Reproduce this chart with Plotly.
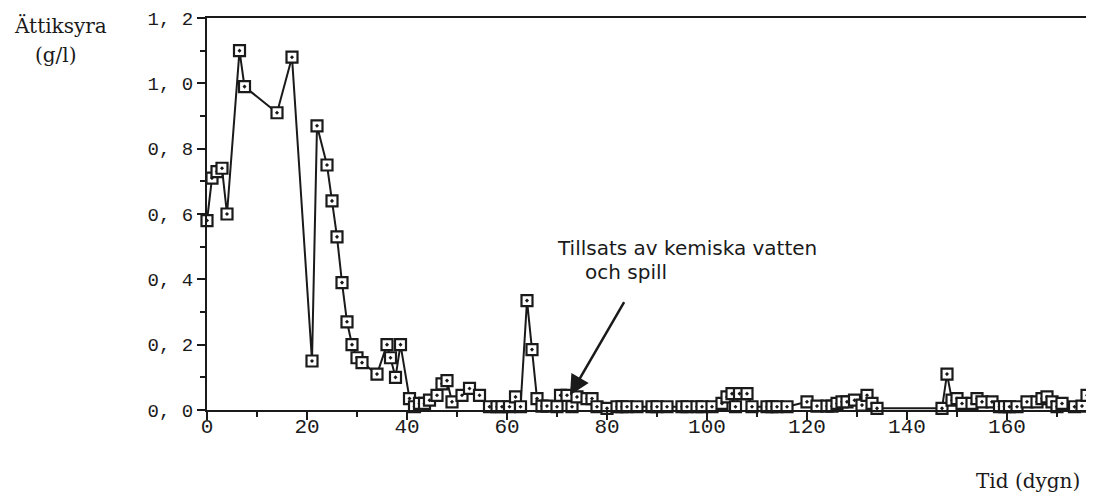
import plotly.graph_objects as go

# Ättiksyra (g/l) over tid (dygn)
dagar = [0, 1, 2, 3, 4, 6.5, 7.5, 14, 17, 21, 22, 24, 25, 26, 27, 28, 29, 30, 31, 34,
         36, 36.7, 37.7, 38.7, 40.5, 41.5, 42.5, 43.5, 44.5, 46, 47, 48, 49, 51, 52.5,
         54.5, 56.5, 58, 59, 60.5, 61.7, 62.7, 64, 65, 66, 67, 68, 70, 70.7, 72, 73,
         74, 76, 77, 78, 80, 82, 83, 84, 86, 89, 90, 92, 95, 96, 98, 99, 101, 103, 104,
         105, 105.7, 106.5, 108, 109, 112, 113, 114, 116, 120, 122, 124, 125, 126, 127,
         128, 129.5, 131, 132, 133, 134, 147, 148, 149, 150, 151, 153, 154, 155, 157,
         158.5, 159.5, 160.5, 162, 164, 166, 167, 168, 169, 170, 171, 173.5, 175, 176]
syra = [0.58, 0.71, 0.73, 0.74, 0.60, 1.10, 0.99, 0.91, 1.08, 0.15, 0.87, 0.75, 0.64,
        0.53, 0.39, 0.27, 0.20, 0.16, 0.145, 0.11, 0.20, 0.16, 0.10, 0.20, 0.035, 0.01,
        0.02, 0.02, 0.03, 0.045, 0.08, 0.09, 0.025, 0.045, 0.066, 0.045, 0.01, 0.01,
        0.01, 0.01, 0.04, 0.01, 0.335, 0.185, 0.035, 0.012, 0.012, 0.01, 0.045, 0.045,
        0.01, 0.04, 0.035, 0.035, 0.01, 0.005, 0.01, 0.01, 0.01, 0.01, 0.01, 0.01, 0.01,
        0.01, 0.01, 0.01, 0.01, 0.01, 0.02, 0.04, 0.05, 0.01, 0.05, 0.05, 0.01, 0.01,
        0.01, 0.01, 0.01, 0.025, 0.012, 0.012, 0.012, 0.02, 0.025, 0.025, 0.03, 0.015,
        0.045, 0.02, 0.005, 0.005, 0.11, 0.03, 0.035, 0.02, 0.02, 0.035, 0.025, 0.025,
        0.01, 0.01, 0.01, 0.01, 0.025, 0.025, 0.035, 0.04, 0.025, 0.01, 0.02, 0.01,
        0.012, 0.045]

y_ticks = [0, 0.2, 0.4, 0.6, 0.8, 1.0, 1.2]
y_ticktext = ['0, 0', '0, 2', '0, 4', '0, 6', '0, 8', '1, 0', '1, 2']
x_ticks = [0, 20, 40, 60, 80, 100, 120, 140, 160]

INK = '#1a1a1a'
MONO = 'Liberation Mono, Courier New, monospace'
SERIF = 'DejaVu Serif, serif'
SANS = 'DejaVu Sans, Arial, sans-serif'

fig = go.Figure()
fig.add_trace(go.Scatter(
    x=dagar, y=syra, mode='lines+markers',
    line=dict(color=INK, width=2),
    marker=dict(symbol='square-dot', size=11, color='white',
                line=dict(color=INK, width=2.2)),
    showlegend=False, cliponaxis=False
))

fig.update_xaxes(
    range=[0, 176], tickvals=x_ticks, ticks='outside', ticklen=8, tickwidth=2,
    tickcolor=INK, showline=True, linecolor=INK, linewidth=2, mirror=True,
    showgrid=False, zeroline=False, ticklabelstandoff=-12, automargin=False,
    minor=dict(dtick=10, tick0=0, ticks='outside', ticklen=5, tickwidth=2, tickcolor=INK),
    tickfont=dict(family=MONO, size=21, color=INK)
)
fig.update_yaxes(
    range=[0, 1.2], tickvals=y_ticks, ticktext=y_ticktext, ticks='outside',
    ticklen=8, tickwidth=2, tickcolor=INK, showline=True, linecolor=INK,
    linewidth=2, mirror=True, showgrid=False, zeroline=False,
    ticklabeloverflow='allow', automargin=False,
    minor=dict(dtick=0.1, tick0=0, ticks='outside', ticklen=5, tickwidth=2, tickcolor=INK),
    tickfont=dict(family=MONO, size=19, color=INK)
)

# axis titles placed like in the scanned original
fig.add_annotation(text='Ättiksyra', x=-0.166, y=0.98, xref='paper', yref='paper',
                   showarrow=False, xanchor='center', yanchor='middle',
                   font=dict(family=SERIF, size=20, color=INK))
fig.add_annotation(text='(g/l)', x=-0.172, y=0.905, xref='paper', yref='paper',
                   showarrow=False, xanchor='center', yanchor='middle',
                   font=dict(family=SERIF, size=20, color=INK))
fig.add_annotation(text='Tid (dygn)', x=0.994, y=-0.182, xref='paper', yref='paper',
                   showarrow=False, xanchor='right', yanchor='middle',
                   font=dict(family=SERIF, size=20, color=INK))

# note with arrow
fig.add_annotation(text='Tillsats av kemiska vatten', x=69.6, y=0.495, xref='x', yref='y',
                   showarrow=False, xanchor='left', yanchor='middle',
                   font=dict(family=SANS, size=20, color=INK))
fig.add_annotation(text='och spill', x=75.2, y=0.422, xref='x', yref='y',
                   showarrow=False, xanchor='left', yanchor='middle',
                   font=dict(family=SANS, size=20, color=INK))
fig.add_annotation(x=72.6, y=0.045, ax=83.6, ay=0.335, xref='x', yref='y',
                   axref='x', ayref='y', text='', showarrow=True, arrowhead=2,
                   arrowsize=1.6, arrowwidth=2.5, arrowcolor=INK)

# page body adds an 8 px offset, margins compensate for it
fig.update_layout(
    width=1094, height=496,
    margin=dict(l=199, r=15, t=10, b=94),
    paper_bgcolor='white', plot_bgcolor='white'
)

fig.write_html('out.html')
